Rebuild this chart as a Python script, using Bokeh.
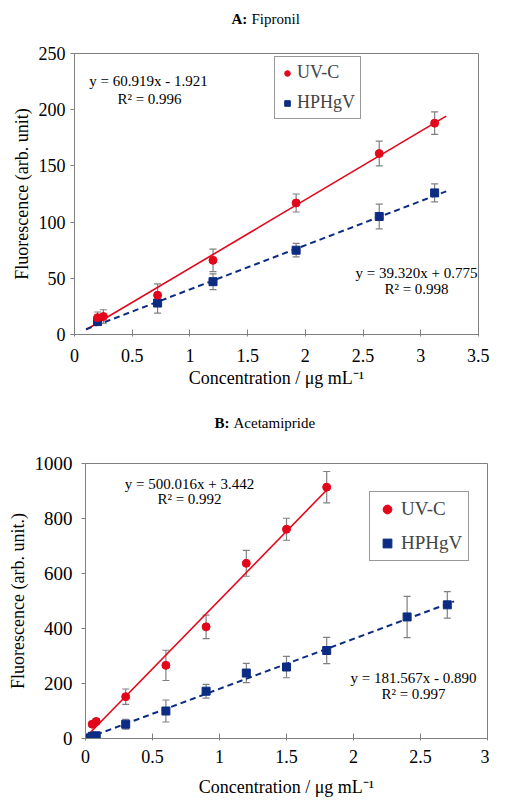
import numpy as np
from bokeh.plotting import figure
from bokeh.layouts import column
from bokeh.models import (ColumnDataSource, Whisker, TeeHead, Label, Legend,
                          LegendItem, FixedTicker, Range1d, NumeralTickFormatter)
from bokeh.embed import file_html
from bokeh.resources import INLINE

# ---------------- data ----------------
# A: Fipronil
fip_x_uvc = [0.2, 0.25, 0.72, 1.2, 1.92, 2.64, 3.12]
fip_y_uvc = [15, 16, 35, 66, 117, 161, 188]
fip_e_uvc = [5, 6, 10, 10, 8, 11, 10]
fip_x_hp = [0.2, 0.72, 1.2, 1.92, 2.64, 3.12]
fip_y_hp = [11.5, 28, 47, 75, 105, 126]
fip_e_hp = [3, 9, 7, 6, 11, 8]
fip_fit_uvc = (60.919, -1.921, 0.996)
fip_fit_hp = (39.320, 0.775, 0.998)
fip_span_uvc = [0.1, 3.22]
fip_span_hp = [0.1, 3.22]
fip_xticks = [0, 0.5, 1, 1.5, 2, 2.5, 3, 3.5]
fip_yticks = [0, 50, 100, 150, 200, 250]

# B: Acetamipride
ace_x_uvc = [0.05, 0.08, 0.3, 0.6, 0.9, 1.2, 1.5, 1.8]
ace_y_uvc = [52, 62, 152, 266, 406, 637, 761, 914]
ace_e_uvc = [8, 10, 28, 55, 43, 47, 40, 57]
ace_x_hp = [0.01, 0.05, 0.08, 0.3, 0.6, 0.9, 1.2, 1.5, 1.8, 2.4, 2.7]
ace_y_hp = [2, 8, 10, 52, 100, 172, 238, 260, 320, 442, 486]
ace_e_hp = [3, 4, 5, 18, 40, 25, 35, 39, 48, 75, 48]
ace_fit_uvc = (500.016, 3.442, 0.992)
ace_fit_hp = (181.567, -0.890, 0.997)
ace_span_uvc = [0.02, 1.8]
ace_span_hp = [0.01, 2.75]
ace_xticks = [0, 0.5, 1, 1.5, 2, 2.5, 3]
ace_yticks = [0, 200, 400, 600, 800, 1000]

series_names = ["UV-C", "HPHgV"]
x_title = "Concentration / μg mL⁻¹"

# ---------------- style ----------------
SERIF = "Liberation Serif"
RED = "#e3071b"
BLUE = "#0c2c84"
GRAY = "#808080"
W = 489
X0 = 8  # page x of figure left edge


def eq_text(fit):
    s, b, r2 = fit
    sign = "+" if b >= 0 else "-"
    return f"y = {s:.3f}x {sign} {abs(b):.3f}", f"R² = {r2:.3f}"


def title_fig(h, parts):
    t = figure(width=W, height=h, output_backend="svg", toolbar_location=None,
               x_range=Range1d(0, W), y_range=Range1d(h, 0),
               x_axis_type=None, y_axis_type=None, min_border=0,
               frame_align=False,
               background_fill_color="white", border_fill_color="white")
    t.grid.visible = False
    t.outline_line_color = None
    for (txt, px, py, style) in parts:
        t.add_layout(Label(x=px - X0, y=py, text=txt, text_font=SERIF,
                           text_font_size="15px", text_font_style=style,
                           text_align="left", text_baseline="middle",
                           text_color="black"))
    return t


def build(geom, xr, yr, fig_top, fig_h, data, fits, spans, xticks, yticks,
          xtick_fs, ytick_fs, xls, yls, legend_cfg, texts, ylabel, xstand, ystand):
    L, R, T, B = geom
    p = figure(width=W, height=fig_h, output_backend="svg", toolbar_location=None,
               x_range=Range1d(*xr), y_range=Range1d(*yr),
               min_border_left=L - X0, min_border_right=W + X0 - R,
               min_border_top=T - fig_top, min_border_bottom=fig_top + fig_h - B,
               frame_align=False,
               background_fill_color="white", border_fill_color="white")
    p.grid.visible = False
    p.outline_line_color = GRAY
    p.outline_line_width = 1

    def to_data(px, py):
        x = xr[0] + (px - L) / (R - L) * (xr[1] - xr[0])
        y = yr[0] + (B - py) / (B - T) * (yr[1] - yr[0])
        return x, y

    # trend lines
    (s1, b1, _), (s2, b2, _) = fits
    xs1 = np.array(spans[0], dtype=float)
    xs2 = np.array(spans[1], dtype=float)
    p.line(xs1, s1 * xs1 + b1, line_color=RED, line_width=1.6)
    p.line(xs2, s2 * xs2 + b2, line_color=BLUE, line_width=2, line_dash="6 4")

    (x1, y1, e1), (x2, y2, e2) = data
    items = []
    for (x, y, e, col, mk, sz, name) in [(x2, y2, e2, BLUE, "square", 8, series_names[1]),
                                          (x1, y1, e1, RED, "circle", 8, series_names[0])]:
        src = ColumnDataSource(dict(x=x, y=y,
                                    up=[a + b for a, b in zip(y, e)],
                                    lo=[a - b for a, b in zip(y, e)]))
        w = Whisker(base="x", upper="up", lower="lo", source=src,
                    line_color=GRAY, line_width=1.2,
                    upper_head=TeeHead(size=7, line_color=GRAY, line_width=1.2),
                    lower_head=TeeHead(size=7, line_color=GRAY, line_width=1.2))
        p.add_layout(w)
        r = p.scatter("x", "y", source=src, marker=mk, size=sz, fill_color=col,
                      line_color=col)
        items.append(LegendItem(label=name, renderers=[r]))
    items = items[::-1]

    loc, lfs, pad, gw, gh, sp = legend_cfg
    leg = Legend(items=items, location=loc, label_text_font=SERIF,
                 label_text_font_size=lfs, padding=pad, glyph_width=gw,
                 glyph_height=gh, label_height=gh, spacing=sp, label_standoff=3,
                 margin=0, border_line_color="#333333", border_line_width=1,
                 background_fill_color="white", background_fill_alpha=1)
    p.add_layout(leg)

    p.xaxis.ticker = FixedTicker(ticks=xticks)
    p.xaxis.formatter = NumeralTickFormatter(format="0.[0]")
    p.xaxis.major_tick_in = 5
    p.xaxis.major_tick_out = 2
    p.xaxis.major_label_standoff = xls
    p.xaxis.major_label_text_font_size = xtick_fs
    p.yaxis.ticker = FixedTicker(ticks=yticks)
    p.yaxis.formatter = NumeralTickFormatter(format="0")
    p.yaxis.major_tick_in = 0
    p.yaxis.major_tick_out = 4
    p.yaxis.major_label_standoff = yls
    p.yaxis.major_label_text_font_size = ytick_fs
    p.axis.minor_tick_line_color = None
    p.axis.axis_line_color = GRAY
    p.axis.major_tick_line_color = GRAY
    p.axis.major_label_text_font = SERIF
    p.axis.major_label_text_color = "black"
    p.xaxis.axis_label = x_title
    p.yaxis.axis_label = ylabel
    p.axis.axis_label_text_font = SERIF
    p.axis.axis_label_text_font_size = "18px"
    p.axis.axis_label_text_font_style = "normal"
    p.axis.axis_label_text_color = "black"
    p.xaxis.axis_label_standoff = xstand
    p.yaxis.axis_label_standoff = ystand

    for (txt, px, py) in texts:
        x, y = to_data(px, py)
        p.add_layout(Label(x=x, y=y, text=txt, text_font=SERIF, text_font_size="15px",
                           text_align="center", text_baseline="middle",
                           text_color="black"))
    return p


# ---------- figure A ----------
tA = title_fig(38, [("A:", 239, 18, "bold"), ("Fipronil", 259, 18, "normal")])
eqA1, rA1 = eq_text(fip_fit_uvc)
eqA2, rA2 = eq_text(fip_fit_hp)
textsA = [(eqA1, 156, 80), (rA1, 157, 98), (eqA2, 424, 272), (rA2, 424, 288)]
pA = build(geom=(82, 486, 53, 334), xr=(0, 3.5), yr=(0, 250), fig_top=38, fig_h=362,
           data=[(fip_x_uvc, fip_y_uvc, fip_e_uvc), (fip_x_hp, fip_y_hp, fip_e_hp)],
           fits=[fip_fit_uvc, fip_fit_hp], spans=[fip_span_uvc, fip_span_hp],
           xticks=fip_xticks, yticks=fip_yticks, xtick_fs="18px", ytick_fs="18px",
           xls=12, yls=5,
           legend_cfg=((200, 281 - 5 - 61), "18px", 5, 14, 20, 9),
           texts=textsA, ylabel="Fluorescence (arb. unit)", xstand=3, ystand=4)

# ---------- figure B ----------
tB = title_fig(40, [("B:", 222, 22, "bold"), ("Acetamipride", 241, 22, "normal")])
eqB1, rB1 = eq_text(ace_fit_uvc)
eqB2, rB2 = eq_text(ace_fit_hp)
textsB = [(eqB1, 197, 483), (rB1, 197, 498), (eqB2, 421, 677), (rB2, 421, 693)]
pB = build(geom=(93, 495, 463, 738), xr=(0, 3), yr=(0, 1000), fig_top=440, fig_h=360,
           data=[(ace_x_uvc, ace_y_uvc, ace_e_uvc), (ace_x_hp, ace_y_hp, ace_e_hp)],
           fits=[ace_fit_uvc, ace_fit_hp], spans=[ace_span_uvc, ace_span_hp],
           xticks=ace_xticks, yticks=ace_yticks, xtick_fs="18px", ytick_fs="19px",
           xls=9, yls=9,
           legend_cfg=((284, 275 - 30 - 68), "19px", 6, 22, 22, 12),
           texts=textsB, ylabel="Fluorescence (arb. unit.)", xstand=11, ystand=4)

layout = column(tA, pA, tB, pB, spacing=0)
open("out.html", "w").write(file_html(layout, INLINE))
